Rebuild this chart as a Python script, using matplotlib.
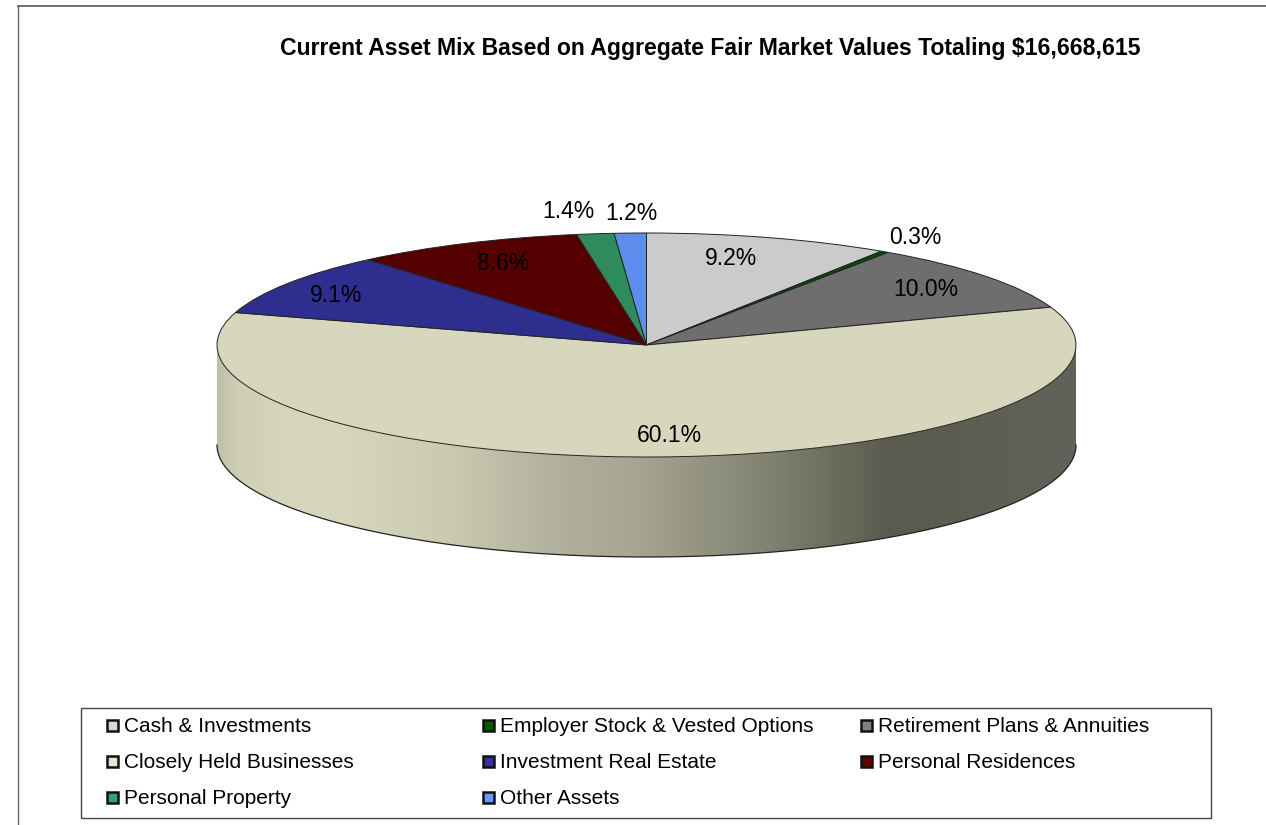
import matplotlib
matplotlib.use("Agg")
import matplotlib.pyplot as plt
import numpy as np
from matplotlib.colors import LinearSegmentedColormap
from matplotlib.patches import Polygon, Rectangle

plt.rcParams['font.family'] = ['Liberation Sans', 'DejaVu Sans']

# data
categories = ["Cash & Investments", "Employer Stock & Vested Options",
              "Retirement Plans & Annuities", "Closely Held Businesses",
              "Investment Real Estate", "Personal Residences",
              "Personal Property", "Other Assets"]
values = [9.2, 0.3, 10.0, 60.1, 9.1, 8.6, 1.4, 1.2]
colors = ["#CBCBCB", "#004F00", "#6E6E6E", "#D7D7BD",
          "#2E2E8E", "#550000", "#2E8B5E", "#5F8DEE"]
legend_colors = ["#DADADA", "#005C00", "#808080", "#E6E6D0",
                 "#333399", "#660000", "#36A06E", "#6699FF"]
title = "Current Asset Mix Based on Aggregate Fair Market Values Totaling $16,668,615"

W, H = 1266, 825
cx, cy, rx, ry, depth = 646.5, 345, 429.5, 112, 100

fig = plt.figure(figsize=(W / 100, H / 100), dpi=100)

# full figure axes in pixels, y goes down
ax = fig.add_axes([0, 0, 1, 1])
ax.set_xlim(0, W)
ax.set_ylim(H, 0)
ax.axis("off")

# frame of the chart area
ax.plot([18, W], [6, 6], color="#666666", lw=1.3)
ax.plot([18, 18], [6, H], color="#666666", lw=1.0)

ax.text(710, 49, title, ha="center", va="center", fontsize=16.55, fontweight="bold")

# side wall of the disc
t = np.linspace(0, np.pi, 400)
arc_x = cx + rx * np.cos(t)
arc_y = cy + ry * np.sin(t)
wall = np.column_stack([np.r_[arc_x, arc_x[::-1]],
                        np.r_[arc_y, arc_y[::-1] + depth]])
stops = [(217, "#C0C0A8"), (235, "#CECEB5"), (275, "#D5D5BB"), (333, "#D7D7BD"),
         (450, "#CACAB1"), (558, "#B0B09C"), (640, "#A5A591"), (777, "#7F7F6F"),
         (892, "#5A5A4E"), (1076, "#62625A")]
cmap = LinearSegmentedColormap.from_list(
    "wall", [((x - 217) / (1076 - 217), c) for x, c in stops])
im = ax.imshow(np.linspace(0, 1, 512).reshape(1, -1), cmap=cmap, aspect="auto",
               extent=(217, 1076, cy + ry + depth, cy), zorder=1)
outline = Polygon(wall, closed=True, fc="none", ec="none", zorder=2)
ax.add_patch(outline)
im.set_clip_path(outline)
ax.plot(arc_x, arc_y + depth, color="#222222", lw=0.9, zorder=3)
ax.set_xlim(0, W)
ax.set_ylim(H, 0)

# pie top, squashed into an ellipse by its own axes
ax_pie = fig.add_axes([(cx - rx) / W, 1 - (cy + ry) / H, 2 * rx / W, 2 * ry / H])
ax_pie.patch.set_alpha(0)
ax_pie.pie(values, colors=colors, startangle=90, counterclock=False, radius=1,
           wedgeprops=dict(edgecolor="#222222", linewidth=0.7, clip_on=False))
ax_pie.set_aspect("auto")
ax_pie.set_xlim(-1, 1)
ax_pie.set_ylim(-1, 1)

# value labels
label_x = [731, 915, 926, 669, 336, 503, 568, 631]
label_y = [258.5, 237.5, 289.5, 435.5, 295.5, 263.5, 212, 214]
ax_lab = fig.add_axes([0, 0, 1, 1])
ax_lab.set_xlim(0, W)
ax_lab.set_ylim(H, 0)
ax_lab.axis("off")
for v, x, y in zip(values, label_x, label_y):
    ax_lab.text(x, y, f"{v:.1f}%", ha="center", va="center", fontsize=16.5, color="black")

# legend box
ax_lab.add_patch(Rectangle((81, 708), 1130, 110, fc="white", ec="#444444", lw=1.0))
col_x = [106, 482, 860]
row_y = [726, 762, 798]
for i, (name, c) in enumerate(zip(categories, legend_colors)):
    x = col_x[i % 3]
    y = row_y[i // 3]
    ax_lab.add_patch(Rectangle((x + 1, y - 6), 11, 11, fc=c, ec="#111111", lw=1.8))
    ax_lab.text(x + 18, y + 1, name, ha="left", va="center", fontsize=15.05)

fig.savefig("out.png", dpi=100)
